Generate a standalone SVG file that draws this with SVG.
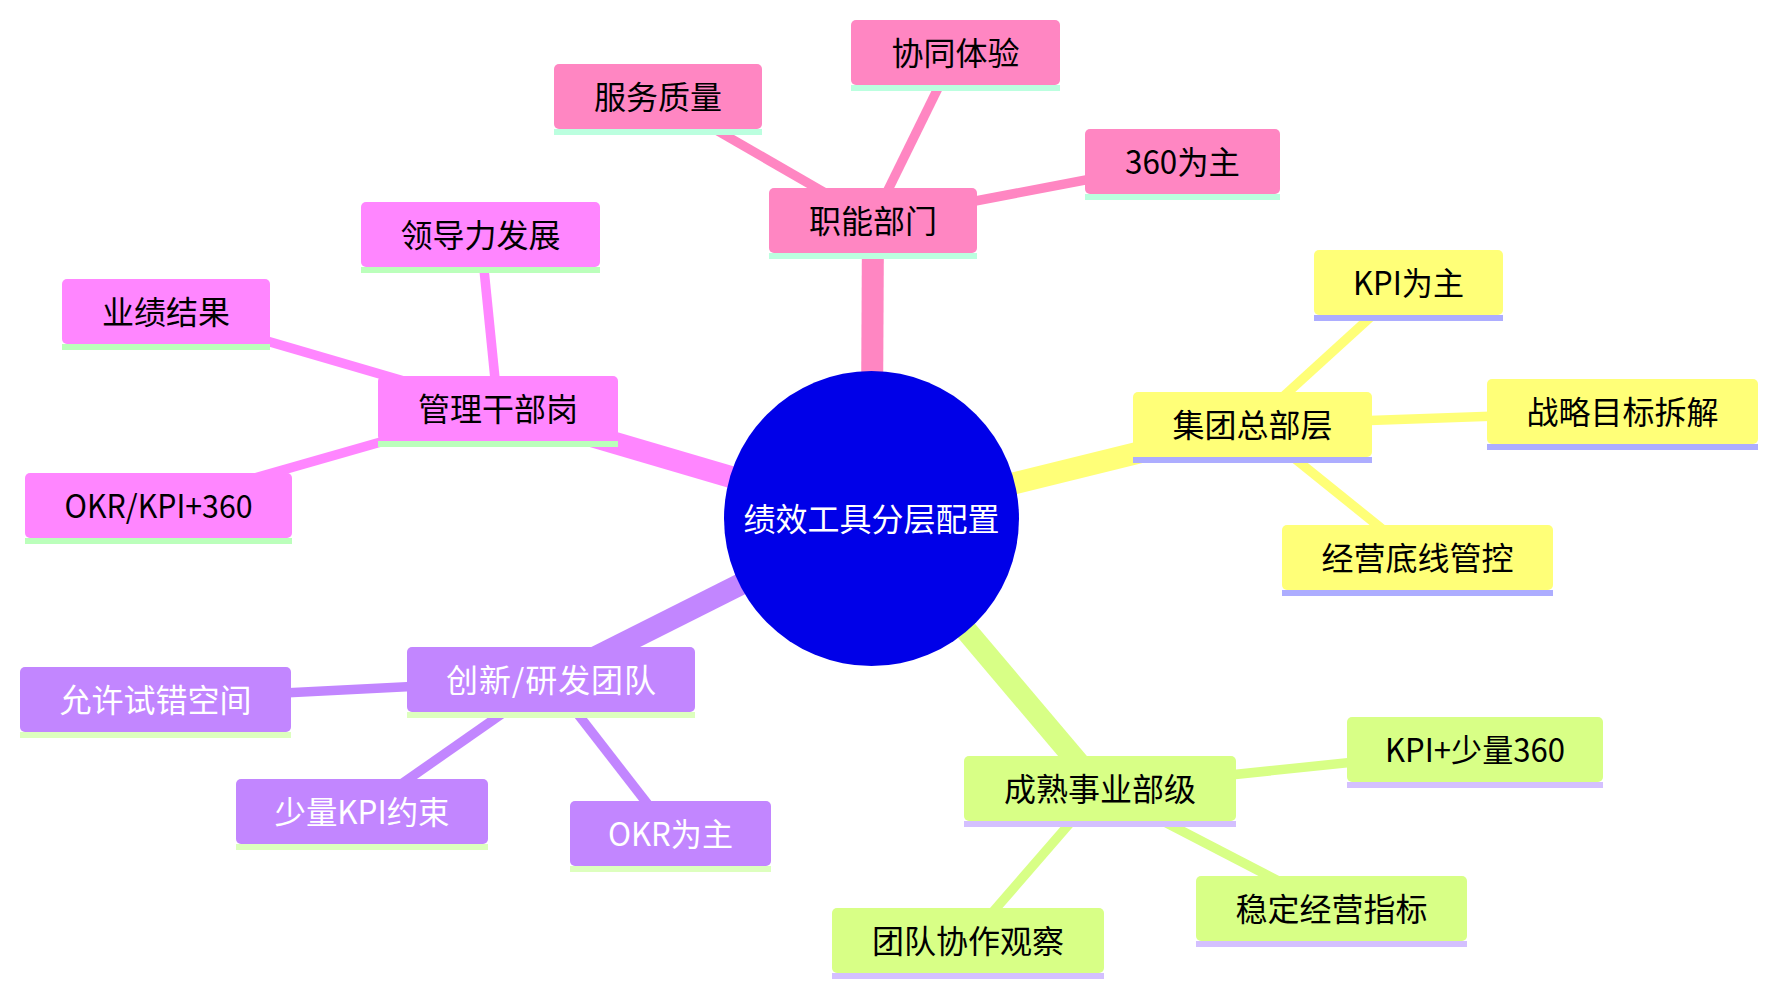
<svg xmlns="http://www.w3.org/2000/svg" width="1778" height="995" viewBox="0 0 1778 995">
<style>
  text { font-family: "Noto Sans CJK SC", "Noto Sans", sans-serif; font-size: 32px; text-anchor: middle; }
  .edges line { stroke-linecap: butt; }
  .d0 { stroke-width: 22; }
  .d1 { stroke-width: 9.5; }
  .s0 .bg { fill: #ff86c2; } .s0 .ln { fill: #bbffdf; } .s0 text { fill: #000000; }
  .s1 .bg { fill: #ffff78; } .s1 .ln { fill: #adadff; } .s1 text { fill: #000000; }
  .s2 .bg { fill: #d8ff86; } .s2 .ln { fill: #d4c0ff; } .s2 text { fill: #000000; }
  .s3 .bg { fill: #c286ff; } .s3 .ln { fill: #ddffbe; } .s3 text { fill: #ffffff; }
  .s4 .bg { fill: #ff86ff; } .s4 .ln { fill: #bbffbb; } .s4 text { fill: #000000; }
  .e0 { stroke: #ff86c2; } .e1 { stroke: #ffff78; } .e2 { stroke: #d8ff86; } .e3 { stroke: #c286ff; } .e4 { stroke: #ff86ff; }
</style>
<rect width="1778" height="995" fill="#ffffff"/>
<g id="connectors" class="edges">
  <line class="e0 d0" x1="871.5" y1="518.5" x2="873" y2="220.5"/>
  <line class="e0 d1" x1="873" y1="220.5" x2="658" y2="96.5"/>
  <line class="e0 d1" x1="873" y1="220.5" x2="955.5" y2="52.5"/>
  <line class="e0 d1" x1="873" y1="220.5" x2="1182.5" y2="161.5"/>
  <line class="e1 d0" x1="871.5" y1="518.5" x2="1252.5" y2="424.5"/>
  <line class="e1 d1" x1="1252.5" y1="424.5" x2="1408.5" y2="282.5"/>
  <line class="e1 d1" x1="1252.5" y1="424.5" x2="1622.5" y2="411.5"/>
  <line class="e1 d1" x1="1252.5" y1="424.5" x2="1417.5" y2="557.5"/>
  <line class="e2 d0" x1="871.5" y1="518.5" x2="1100" y2="788.5"/>
  <line class="e2 d1" x1="1100" y1="788.5" x2="1475" y2="749.5"/>
  <line class="e2 d1" x1="1100" y1="788.5" x2="1331.5" y2="908.5"/>
  <line class="e2 d1" x1="1100" y1="788.5" x2="968" y2="940.5"/>
  <line class="e3 d0" x1="871.5" y1="518.5" x2="551" y2="679.5"/>
  <line class="e3 d1" x1="551" y1="679.5" x2="155.5" y2="699.5"/>
  <line class="e3 d1" x1="551" y1="679.5" x2="362" y2="811.5"/>
  <line class="e3 d1" x1="551" y1="679.5" x2="670.5" y2="833.5"/>
  <line class="e4 d0" x1="871.5" y1="518.5" x2="498" y2="408.5"/>
  <line class="e4 d1" x1="498" y1="408.5" x2="480.5" y2="234.5"/>
  <line class="e4 d1" x1="498" y1="408.5" x2="166" y2="311.5"/>
  <line class="e4 d1" x1="498" y1="408.5" x2="158.5" y2="505.5"/>
</g>
<g id="root">
  <circle cx="871.5" cy="518.5" r="147.5" fill="#0000e8"/>
  <text x="871.5" y="531" fill="#ffffff">绩效工具分层配置</text>
</g>
<g id="n-zhineng" class="s0"><rect class="bg" x="769" y="188" width="208" height="65" rx="5"/><rect class="ln" x="769" y="253" width="208" height="6"/><text x="873" y="233">职能部门</text></g>
<g id="n-fuwu" class="s0"><rect class="bg" x="554" y="64" width="208" height="65" rx="5"/><rect class="ln" x="554" y="129" width="208" height="6"/><text x="658" y="109">服务质量</text></g>
<g id="n-xietong" class="s0"><rect class="bg" x="851" y="20" width="209" height="65" rx="5"/><rect class="ln" x="851" y="85" width="209" height="6"/><text x="955.5" y="65">协同体验</text></g>
<g id="n-360" class="s0"><rect class="bg" x="1085" y="129" width="195" height="65" rx="5"/><rect class="ln" x="1085" y="194" width="195" height="6"/><text x="1182.5" y="174" textLength="115" lengthAdjust="spacingAndGlyphs">360为主</text></g>

<g id="n-jituan" class="s1"><rect class="bg" x="1133" y="392" width="239" height="65" rx="5"/><rect class="ln" x="1133" y="457" width="239" height="6"/><text x="1252.5" y="437">集团总部层</text></g>
<g id="n-kpi" class="s1"><rect class="bg" x="1314" y="250" width="189" height="65" rx="5"/><rect class="ln" x="1314" y="315" width="189" height="6"/><text x="1408.5" y="295" textLength="111" lengthAdjust="spacingAndGlyphs">KPI为主</text></g>
<g id="n-zhanlue" class="s1"><rect class="bg" x="1487" y="379" width="271" height="65" rx="5"/><rect class="ln" x="1487" y="444" width="271" height="6"/><text x="1622.5" y="424">战略目标拆解</text></g>
<g id="n-jingying" class="s1"><rect class="bg" x="1282" y="525" width="271" height="65" rx="5"/><rect class="ln" x="1282" y="590" width="271" height="6"/><text x="1417.5" y="570">经营底线管控</text></g>

<g id="n-chengshu" class="s2"><rect class="bg" x="964" y="756" width="272" height="65" rx="5"/><rect class="ln" x="964" y="821" width="272" height="6"/><text x="1100" y="801">成熟事业部级</text></g>
<g id="n-kpi360" class="s2"><rect class="bg" x="1347" y="717" width="256" height="65" rx="5"/><rect class="ln" x="1347" y="782" width="256" height="6"/><text x="1475" y="762" textLength="180" lengthAdjust="spacingAndGlyphs">KPI+少量360</text></g>
<g id="n-wending" class="s2"><rect class="bg" x="1196" y="876" width="271" height="65" rx="5"/><rect class="ln" x="1196" y="941" width="271" height="6"/><text x="1331.5" y="921">稳定经营指标</text></g>
<g id="n-tuandui" class="s2"><rect class="bg" x="832" y="908" width="272" height="65" rx="5"/><rect class="ln" x="832" y="973" width="272" height="6"/><text x="968" y="953">团队协作观察</text></g>

<g id="n-chuangxin" class="s3"><rect class="bg" x="407" y="647" width="288" height="65" rx="5"/><rect class="ln" x="407" y="712" width="288" height="6"/><text x="551" y="692" textLength="210" lengthAdjust="spacing">创新/研发团队</text></g>
<g id="n-yunxu" class="s3"><rect class="bg" x="20" y="667" width="271" height="65" rx="5"/><rect class="ln" x="20" y="732" width="271" height="6"/><text x="155.5" y="712">允许试错空间</text></g>
<g id="n-shaoliang" class="s3"><rect class="bg" x="236" y="779" width="252" height="65" rx="5"/><rect class="ln" x="236" y="844" width="252" height="6"/><text x="362" y="824" textLength="175" lengthAdjust="spacingAndGlyphs">少量KPI约束</text></g>
<g id="n-okr" class="s3"><rect class="bg" x="570" y="801" width="201" height="65" rx="5"/><rect class="ln" x="570" y="866" width="201" height="6"/><text x="670.5" y="846" textLength="125" lengthAdjust="spacingAndGlyphs">OKR为主</text></g>

<g id="n-guanli" class="s4"><rect class="bg" x="378" y="376" width="240" height="65" rx="5"/><rect class="ln" x="378" y="441" width="240" height="6"/><text x="498" y="421">管理干部岗</text></g>
<g id="n-lingdao" class="s4"><rect class="bg" x="361" y="202" width="239" height="65" rx="5"/><rect class="ln" x="361" y="267" width="239" height="6"/><text x="480.5" y="247">领导力发展</text></g>
<g id="n-yeji" class="s4"><rect class="bg" x="62" y="279" width="208" height="65" rx="5"/><rect class="ln" x="62" y="344" width="208" height="6"/><text x="166" y="324">业绩结果</text></g>
<g id="n-okrkpi" class="s4"><rect class="bg" x="25" y="473" width="267" height="65" rx="5"/><rect class="ln" x="25" y="538" width="267" height="6"/><text x="158.5" y="518" textLength="188" lengthAdjust="spacingAndGlyphs">OKR/KPI+360</text></g>
</svg>
